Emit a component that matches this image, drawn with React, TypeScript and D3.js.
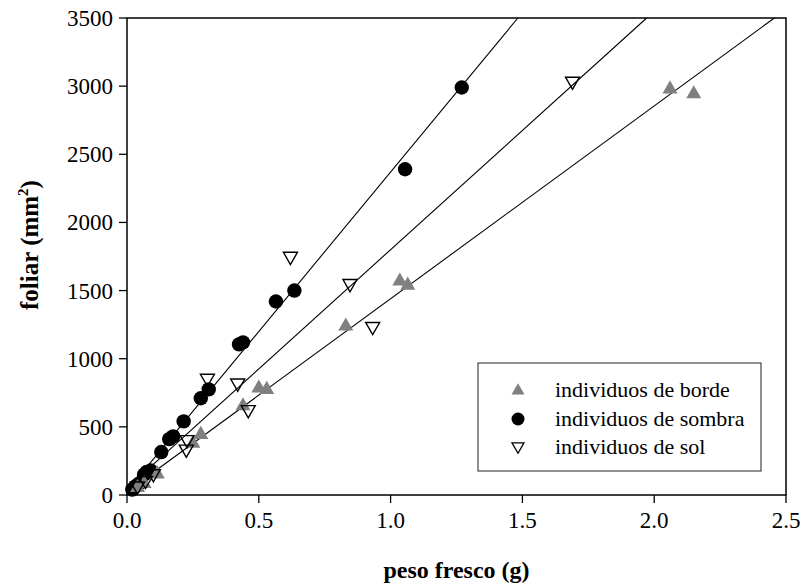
import React from "react";
import * as d3 from "d3";

const xTicks = [0, 0.5, 1.0, 1.5, 2.0, 2.5];
const yTicks = [0, 500, 1000, 1500, 2000, 2500, 3000, 3500];

const bordeX = [0.04, 0.065, 0.115, 0.25, 0.28, 0.44, 0.5, 0.53, 0.83, 1.035, 1.065, 2.06, 2.15];
const bordeY = [60, 90, 160, 385, 450, 660, 790, 780, 1245, 1575, 1545, 2985, 2950];

const sombraX = [0.02, 0.03, 0.04, 0.05, 0.065, 0.075, 0.09, 0.13, 0.16, 0.175, 0.215, 0.28, 0.31, 0.425, 0.44, 0.565, 0.635, 1.055, 1.27];
const sombraY = [40, 60, 75, 90, 150, 170, 180, 315, 410, 430, 540, 710, 775, 1105, 1120, 1420, 1500, 2390, 2990];

const solX = [0.04, 0.07, 0.1, 0.225, 0.228, 0.305, 0.42, 0.46, 0.62, 0.846, 0.932, 1.69];
const solY = [60, 100, 150, 330, 400, 850, 815, 620, 1745, 1545, 1230, 3030];

// regression lines: slope, intercept, start x
const lineNames = ["borde", "sombra", "sol"];
const lineSlopes = [1415, 2340, 1750];
const lineIntercepts = [25, 30, 50];
const lineStartX = [0.02, 0.02, 0.02];

const legendLabels = ["individuos de borde", "individuos de sombra", "individuos de sol"];

const W = 803;
const H = 586;
const left = 127;
const right = 786;
const top = 18;
const bottom = 495;
const FONT = "'Liberation Serif', 'Times New Roman', serif";
const GRAY = "#808080";

function upTri(cx: number, cy: number, s: number) {
  const h = s * 0.87;
  return `M${cx},${cy - h * 0.6}L${cx + s / 2},${cy + h * 0.4}L${cx - s / 2},${cy + h * 0.4}Z`;
}
function downTri(cx: number, cy: number, s: number) {
  const h = s * 0.87;
  return `M${cx - s / 2},${cy - h * 0.4}L${cx + s / 2},${cy - h * 0.4}L${cx},${cy + h * 0.6}Z`;
}

export default function App() {
  const x = d3.scaleLinear().domain([0, 2.5]).range([left, right]);
  const y = d3.scaleLinear().domain([0, 3500]).range([bottom, top]);

  const lines = lineNames.map((n, i) => {
    const b = lineSlopes[i];
    const a = lineIntercepts[i];
    const xEnd = Math.min(2.5, (3500 - a) / b);
    const pts: [number, number][] = [
      [lineStartX[i], a + b * lineStartX[i]],
      [xEnd, a + b * xEnd],
    ];
    return d3.line<[number, number]>().x((d) => x(d[0])).y((d) => y(d[1]))(pts) || "";
  });

  const fmtX = d3.format(".1f");

  const legX = 478, legY = 363, legW = 283, legH = 108;
  const legRows = [390, 419, 447];

  return (
    <svg width={W} height={H} style={{ position: "absolute", left: 0, top: 0, background: "#fff" }} fontFamily={FONT}>
      <rect x={0} y={0} width={W} height={H} fill="#fff" />
      {lines.map((d, i) => (
        <path key={i} d={d} stroke="#000" strokeWidth={1.1} fill="none" />
      ))}
      {sombraX.map((v, i) => (
        <circle key={"s" + i} cx={x(v)} cy={y(sombraY[i])} r={7.2} fill="#000" />
      ))}
      {bordeX.map((v, i) => (
        <path key={"b" + i} d={upTri(x(v), y(bordeY[i]), 15)} fill={GRAY} />
      ))}
      {solX.map((v, i) => (
        <path key={"o" + i} d={downTri(x(v), y(solY[i]), 14)} fill="none" stroke="#000" strokeWidth={1.4} />
      ))}
      <rect x={left} y={top} width={right - left} height={bottom - top} fill="none" stroke="#000" strokeWidth={1.5} />
      {yTicks.map((t) => (
        <g key={"y" + t}>
          <line x1={left - 8} x2={left} y1={y(t)} y2={y(t)} stroke="#000" strokeWidth={1.3} />
          <text x={left - 14} y={y(t)} dy="0.35em" textAnchor="end" fontSize={23}>{t}</text>
        </g>
      ))}
      {xTicks.map((t) => (
        <g key={"x" + t}>
          <line x1={x(t)} x2={x(t)} y1={bottom} y2={bottom + 8} stroke="#000" strokeWidth={1.3} />
          <text x={x(t)} y={bottom + 33} textAnchor="middle" fontSize={23}>{fmtX(t)}</text>
        </g>
      ))}
      <text x={(left + right) / 2} y={578} textAnchor="middle" fontSize={24} fontWeight="bold">peso fresco (g)</text>
      <text transform={`translate(38,245) rotate(-90)`} textAnchor="middle" fontSize={25} fontWeight="bold">
        foliar (mm<tspan dy="-10" fontSize={15}>2</tspan><tspan dy="10">)</tspan>
      </text>
      <rect x={legX} y={legY} width={legW} height={legH} fill="#fff" stroke="#444" strokeWidth={1.2} />
      <path d={upTri(518, legRows[0], 13)} fill={GRAY} />
      <circle cx={518} cy={legRows[1]} r={6.5} fill="#000" />
      <path d={downTri(518, legRows[2], 12)} fill="none" stroke="#000" strokeWidth={1.3} />
      {legendLabels.map((l, i) => (
        <text key={l} x={555} y={legRows[i]} dy="0.32em" fontSize={22}>{l}</text>
      ))}
    </svg>
  );
}
